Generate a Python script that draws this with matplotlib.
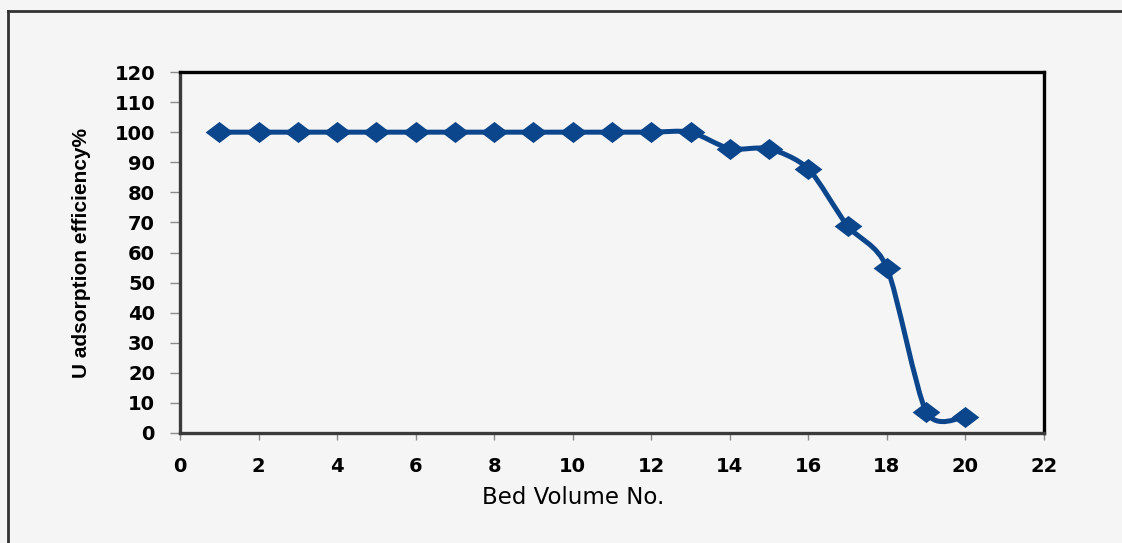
import numpy as np
import matplotlib
matplotlib.use("Agg")
import matplotlib.pyplot as plt
from matplotlib.path import Path
from matplotlib.patches import PathPatch
from matplotlib.lines import Line2D

# ---- data ----
bed_volume = [1, 2, 3, 4, 5, 6, 7, 8, 9, 10, 11, 12, 13, 14, 15, 16, 17, 18, 19, 20]
efficiency = [100, 100, 100, 100, 100, 100, 100, 100, 100, 100, 100, 100, 100,
              94.5, 94.5, 87.8, 68.8, 55.0, 7.1, 5.4]
x_ticks = [0, 2, 4, 6, 8, 10, 12, 14, 16, 18, 20, 22]
y_ticks = [0, 10, 20, 30, 40, 50, 60, 70, 80, 90, 100, 110, 120]
x_label = "Bed Volume No."
y_label = "U adsorption efficiency%"

BG = "#f5f5f5"
BLUE = "#0b468c"

fig = plt.figure(figsize=(11.22, 5.43), dpi=100, facecolor=BG)
ax = fig.add_axes([180/1122, 110/543, 864/1122, 361/543], facecolor=BG)

# smoothed line (Bezier through the points, like a spreadsheet "smoothed line")
P = np.column_stack([bed_volume, efficiency]).astype(float)
n = len(P)
k = 0.13
verts = [tuple(P[0])]
codes = [Path.MOVETO]
for i in range(n - 1):
    p0 = P[i - 1] if i > 0 else P[i]
    p1 = P[i]
    p2 = P[i + 1]
    p3 = P[i + 2] if i + 2 < n else P[i + 1]
    c1 = p1 + (p2 - p0) * k
    c2 = p2 - (p3 - p1) * k
    verts += [tuple(c1), tuple(c2), tuple(p2)]
    codes += [Path.CURVE4, Path.CURVE4, Path.CURVE4]
ax.add_patch(PathPatch(Path(verts, codes), fill=False, edgecolor=BLUE,
                       linewidth=3.6, transform=ax.transData, zorder=3,
                       capstyle="round", joinstyle="round"))

diamond = [(-1, 0), (0, 0.76), (1, 0), (0, -0.76), (-1, 0)]
ax.plot(bed_volume, efficiency, linestyle="none", marker=diamond,
        markersize=20, color=BLUE, markeredgewidth=0, zorder=4)

ax.set_xlim(0, 22)
ax.set_ylim(0, 120)
ax.set_xticks(x_ticks)
ax.set_yticks(y_ticks)
ax.set_xticklabels([str(v) for v in x_ticks], fontfamily="DejaVu Sans",
                   fontweight="bold", fontsize=14)
ax.set_yticklabels([str(v) for v in y_ticks], fontfamily="DejaVu Sans",
                   fontweight="bold", fontsize=14)
ax.tick_params(axis="y", direction="out", length=7, width=1, color="#8a8a8a", pad=11)
ax.tick_params(axis="x", direction="out", length=5, width=1, color="#8a8a8a", pad=12)

for side in ["left", "bottom"]:
    ax.spines[side].set_color("#3a3a3a")
    ax.spines[side].set_linewidth(2.4)
for side in ["top", "right"]:
    ax.spines[side].set_color("#000000")
    ax.spines[side].set_linewidth(2.4)

ax.set_xlabel(x_label, fontfamily="DejaVu Sans", fontsize=16.5)
ax.xaxis.set_label_coords(0.455, -0.148)
ax.set_ylabel(y_label, fontfamily=["Liberation Sans", "DejaVu Sans"],
              fontweight="bold", fontsize=15)
ax.yaxis.set_label_coords(-0.103, 0.5)

# outer frame (left and top edges visible)
fig.add_artist(Line2D([8/1122, 8/1122], [-0.05, 1 - 11/543], transform=fig.transFigure,
                      color="#333333", linewidth=2.0))
fig.add_artist(Line2D([8/1122, 1.05], [1 - 11/543, 1 - 11/543], transform=fig.transFigure,
                      color="#333333", linewidth=2.0))

fig.savefig("out.png", dpi=100, facecolor=BG)
